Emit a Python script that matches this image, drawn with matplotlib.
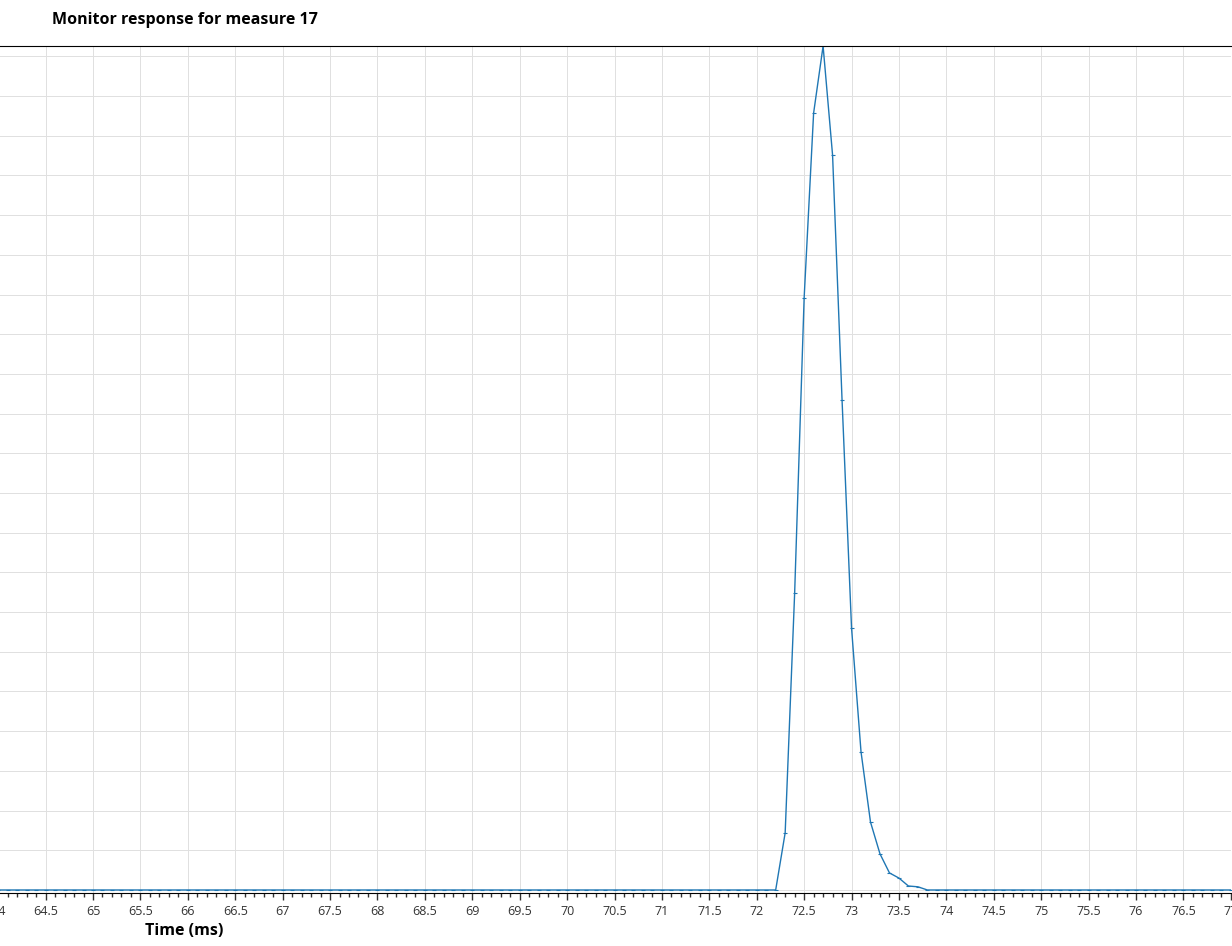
import numpy as np
import matplotlib
matplotlib.use("Agg")
from matplotlib import pyplot as plt
from matplotlib.ticker import MultipleLocator, FormatStrFormatter

plt.rcParams["font.family"] = ["Open Sans", "DejaVu Sans"]

# Sample grid of the monitor (ms) and the non-zero part of the response.
time_ms = np.round(np.arange(64.0, 77.05, 0.1), 1)
pulse_times = [72.2, 72.3, 72.4, 72.5, 72.6, 72.7, 72.8, 72.9, 73.0,
               73.1, 73.2, 73.3, 73.4, 73.5, 73.6, 73.7, 73.8]
pulse_counts = [0.0, 1.44, 7.48, 14.91, 19.57, 21.26, 18.51, 12.34, 6.6,
                3.48, 1.71, 0.91, 0.43, 0.30, 0.10, 0.08, 0.0]

title = "Monitor response for measure 17"
x_label = "Time (ms)"

counts = np.zeros_like(time_ms)
for t, c in zip(pulse_times, pulse_counts):
    counts[np.isclose(time_ms, t)] = c

W, H = 1232, 946
fig = plt.figure(figsize=(W / 100, H / 100), dpi=100)
ax = fig.add_axes([-1.8 / W, (H - 893) / H, 1232.6 / W, (893 - 46) / H])

ax.plot(time_ms, counts, color="#1f77b4", linewidth=1.0,
        marker="_", markersize=2.5, markeredgewidth=0.8)

ax.set_xlim(64, 77)
ax.set_ylim(-0.076, max(pulse_counts))

ax.xaxis.set_major_locator(MultipleLocator(0.5))
ax.xaxis.set_minor_locator(MultipleLocator(0.1))
ax.xaxis.set_major_formatter(FormatStrFormatter("%g"))
ax.yaxis.set_major_locator(MultipleLocator(1))
ax.tick_params(axis="x", which="major", length=5, width=1, labelsize=9,
               colors="#333333", direction="out")
ax.tick_params(axis="x", which="minor", length=3, width=1, color="#333333")
ax.tick_params(axis="y", which="both", left=False, labelleft=False)

ax.grid(True, which="major", color="#e0e0e0", linewidth=0.7)
ax.set_axisbelow(True)

for side in ("left", "right"):
    ax.spines[side].set_visible(False)
ax.spines["top"].set_color("black")
ax.spines["bottom"].set_color("black")

fig.text(52 / W, 1 - 20 / H, title, fontsize=11.5, fontweight="bold",
         ha="left", va="center")
fig.text(184 / W, 1 - 931 / H, x_label, fontsize=11.5, fontweight="bold",
         ha="center", va="center")

fig.savefig("out.png", dpi=100)
